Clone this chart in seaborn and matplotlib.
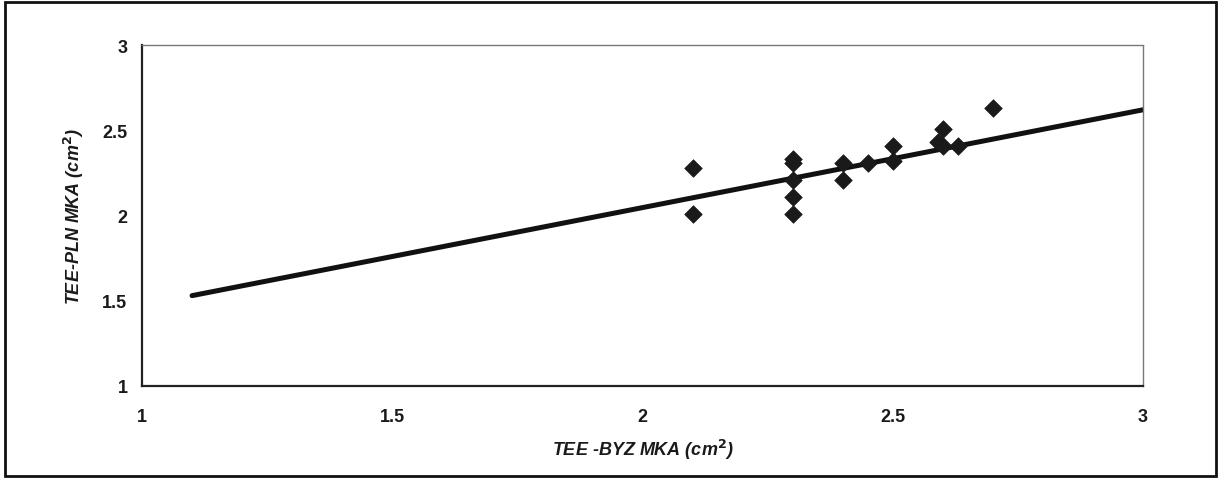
import seaborn as sns
import matplotlib.pyplot as plt
from matplotlib.patches import Rectangle

# values
byz_mka = [2.1, 2.1, 2.3, 2.3, 2.3, 2.3, 2.3, 2.4, 2.4, 2.45, 2.5, 2.5, 2.6, 2.59, 2.6, 2.63, 2.7]
pln_mka = [2.28, 2.01, 2.33, 2.31, 2.21, 2.11, 2.01, 2.31, 2.21, 2.31, 2.41, 2.32, 2.51, 2.43, 2.41, 2.41, 2.63]

# trend line as drawn (Excel linear trendline, extended backwards)
trend_x = [1.1, 3.0]
trend_y = [1.53, 2.62]

ticks = [1, 1.5, 2, 2.5, 3]
tick_labels = ['1', '1.5', '2', '2.5', '3']

sns.set_style('white')
plt.rcParams['font.family'] = ['Liberation Sans', 'DejaVu Sans']

fig = plt.figure(figsize=(12.23, 4.81), dpi=100)
ax = fig.add_axes([142 / 1223, 1 - 387 / 481, (1143 - 142) / 1223, (387 - 46) / 481])

sns.lineplot(x=trend_x, y=trend_y, color='#111111', linewidth=3.6, ax=ax)
sns.scatterplot(x=byz_mka, y=pln_mka, marker='D', s=80, color='#1a1a1a',
                edgecolor='#1a1a1a', linewidth=0.5, zorder=3, ax=ax)

ax.set_xlim(1, 3)
ax.set_ylim(1, 3)
ax.set_xticks(ticks)
ax.set_xticklabels(tick_labels, fontweight='bold')
ax.set_yticks(ticks)
ax.set_yticklabels(tick_labels, fontweight='bold')
ax.tick_params(axis='both', direction='inout', length=5, width=1, color='#222222',
               labelsize=13, labelcolor='#1a1a1a')
ax.tick_params(axis='x', pad=13)
ax.tick_params(axis='y', pad=8)

for side in ['left', 'bottom']:
    ax.spines[side].set_color('#222222')
    ax.spines[side].set_linewidth(1.6)
for side in ['top', 'right']:
    ax.spines[side].set_color('#777777')
    ax.spines[side].set_linewidth(1.0)
    ax.spines[side].set_linestyle((0, (2, 1)))

ax.set_xlabel('TEE -BYZ MKA (cm$^{\\mathbf{2}}$)', fontsize=13, fontweight='bold',
              fontstyle='italic', labelpad=9, color='#1a1a1a')
ax.set_ylabel('TEE-PLN MKA (cm$^{\\mathbf{2}}$)', fontsize=13, fontweight='bold',
              fontstyle='italic', labelpad=12, color='#1a1a1a')

# frame round the whole chart
fig.patches.append(Rectangle((5 / 1223, 4 / 481), 1211 / 1223, 474 / 481,
                             transform=fig.transFigure, fill=False,
                             edgecolor='#111111', linewidth=2))

fig.savefig('out.png', dpi=100)
